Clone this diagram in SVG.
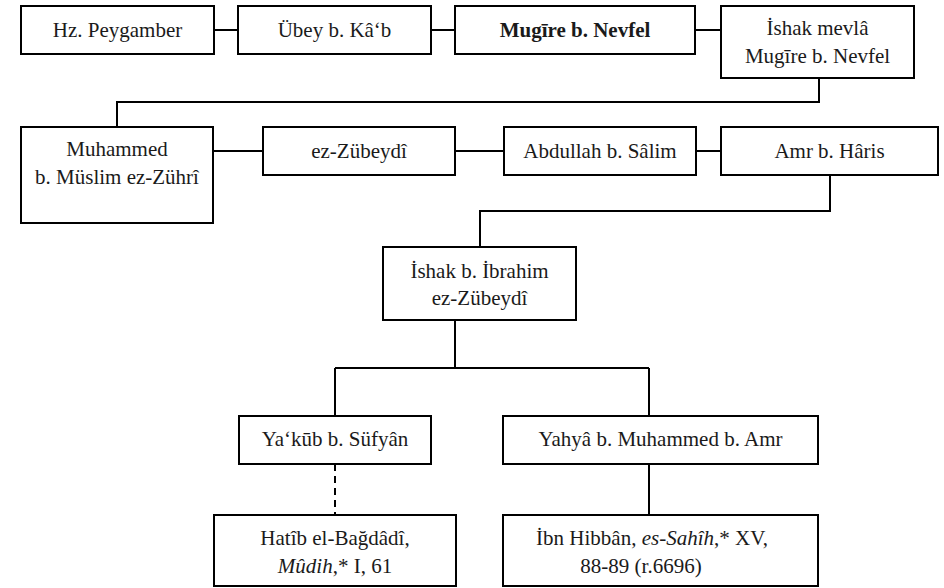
<svg xmlns="http://www.w3.org/2000/svg" width="944" height="588" viewBox="0 0 944 588">
<style>
.box{fill:#fff;stroke:#000;stroke-width:2}
.ln{fill:none;stroke:#000;stroke-width:2}
.dash{fill:none;stroke:#000;stroke-width:2;stroke-dasharray:7,5}
text{font-family:"Liberation Serif","DejaVu Serif",serif;font-size:21px;fill:#1a1a1a;text-anchor:middle}
.b{font-weight:bold}
</style>
<rect width="944" height="588" fill="#fff"/>
<g id="connectors">
<path class="ln" d="M214 30H238M431 30H455M695 30H721"/>
<path class="ln" d="M819 78V102H117V127"/>
<path class="ln" d="M213 151H263M455 151H504M696 151H721"/>
<path class="ln" d="M830 175V211H480V247"/>
<path class="ln" d="M455 320V368M335 368H649M335 368V416M649 368V416"/>
<path class="dash" d="M335 464V515"/>
<path class="ln" d="M649 464V515"/>
</g>
<g id="n1"><rect class="box" x="21" y="6" width="193" height="48"/><text x="117.5" y="37">Hz. Peygamber</text></g>
<g id="n2"><rect class="box" x="238" y="6" width="193" height="48"/><text x="334.5" y="37">Übey b. Kâ‘b</text></g>
<g id="n3"><rect class="box" x="455" y="6" width="240" height="48"/><text class="b" x="575" y="37">Mugīre b. Nevfel</text></g>
<g id="n4"><rect class="box" x="721" y="6" width="193" height="72"/><text x="817.5" y="35">İshak mevlâ</text><text x="817.5" y="63">Mugīre b. Nevfel</text></g>
<g id="n5"><rect class="box" x="21" y="127" width="192" height="96"/><text x="117" y="156">Muhammed</text><text x="117" y="184">b. Müslim ez-Zührî</text></g>
<g id="n6"><rect class="box" x="263" y="127" width="192" height="48"/><text x="359" y="158">ez-Zübeydî</text></g>
<g id="n7"><rect class="box" x="504" y="127" width="192" height="48"/><text x="600" y="158">Abdullah b. Sâlim</text></g>
<g id="n8"><rect class="box" x="721" y="127" width="217" height="48"/><text x="829.5" y="158">Amr b. Hâris</text></g>
<g id="n9"><rect class="box" x="383" y="247" width="193" height="73"/><text x="479.5" y="278">İshak b. İbrahim</text><text x="479.5" y="305">ez-Zübeydî</text></g>
<g id="n10"><rect class="box" x="239" y="416" width="192" height="48"/><text x="335" y="446">Ya‘kūb b. Süfyân</text></g>
<g id="n11"><rect class="box" x="503" y="416" width="315" height="48"/><text x="660.5" y="446">Yahyâ b. Muhammed b. Amr</text></g>
<g id="n12"><rect class="box" x="214" y="515" width="242" height="71"/><text x="335" y="545">Hatîb el-Bağdâdî,</text><text x="335" y="573"><tspan font-style="italic">Mûdih</tspan>,* I, 61</text></g>
<g id="n13"><rect class="box" x="503" y="515" width="315" height="71"/><text x="652" y="545">İbn Hibbân, <tspan font-style="italic">es-Sahîh</tspan>,* XV,</text><text x="641" y="573">88-89 (r.6696)</text></g>
</svg>
